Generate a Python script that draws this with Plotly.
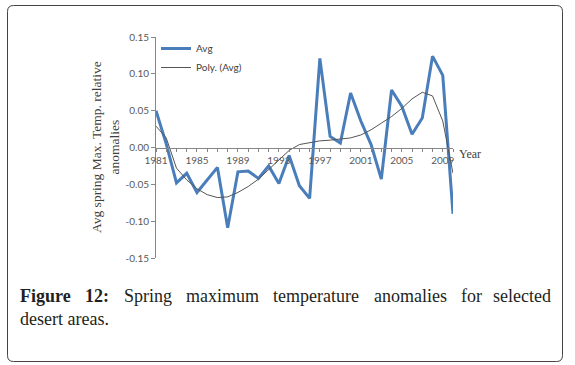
import plotly.graph_objects as go

years = list(range(1981, 2011))
avg = [0.050, 0.005, -0.048, -0.035, -0.061, -0.044, -0.027, -0.109, -0.033, -0.032,
       -0.042, -0.025, -0.049, -0.011, -0.052, -0.069, 0.121, 0.015, 0.006, 0.074,
       0.036, 0.004, -0.043, 0.078, 0.056, 0.018, 0.040, 0.124, 0.098, -0.090]
poly = [0.029, 0.013, -0.028, -0.044, -0.056, -0.064, -0.068, -0.067, -0.061, -0.053,
        -0.043, -0.030, -0.016, -0.004, 0.004, 0.007, 0.009, 0.010, 0.011, 0.013,
        0.017, 0.024, 0.033, 0.042, 0.053, 0.066, 0.075, 0.070, 0.036, -0.035]
y_ticks = [0.15, 0.10, 0.05, 0.00, -0.05, -0.10, -0.15]
y_tick_text = ["0.15", "0.10", "0.05", "0.00", "-0.05", "-0.10", "-0.15"]

W, H = 575, 365
L, R, T, B = 156, 122, 37, 107
PW, PH = W - L - R, H - T - B

def px(x):
    return (x - L) / PW

def py(y):
    return (H - B - y) / PH

fig = go.Figure()
fig.add_trace(go.Scatter(x=years, y=avg, mode="lines", name="Avg",
                         line=dict(color="#4A7EBB", width=3)))
fig.add_trace(go.Scatter(x=years, y=poly, mode="lines", name="Poly. (Avg)",
                         line=dict(color="#555555", width=1)))

fig.update_layout(
    width=W, height=H,
    margin=dict(l=L, r=R, t=T, b=B),
    paper_bgcolor="white", plot_bgcolor="white",
    showlegend=True,
    legend=dict(x=0.0, y=py(34), xanchor="left", yanchor="top",
                font=dict(family="Lato", size=10, color="#404040"),
                bgcolor="rgba(0,0,0,0)", tracegroupgap=0, itemwidth=30),
    xaxis=dict(range=[1981, 2010], tick0=1981, dtick=4, anchor="free", position=0.5,
               showgrid=False, zeroline=False, showline=True, linecolor="#868686",
               linewidth=1, ticks="outside", ticklen=3, tickcolor="#868686",
               tickfont=dict(family="Lato", size=10, color="#595959"),
               minor=dict(dtick=1, tick0=1981, ticks="outside", ticklen=3, tickcolor="#868686")),
    yaxis=dict(range=[-0.15, 0.15], tickvals=y_ticks, ticktext=y_tick_text,
               showgrid=False, zeroline=False, showline=True, linecolor="#868686",
               linewidth=1, ticks="outside", ticklen=4, tickcolor="#868686",
               tickfont=dict(family="Lato", size=10, color="#595959")),
)

fig.add_annotation(xref="paper", yref="paper", x=px(105), y=py(147),
                   text="Avg spring Max. Temp. relative<br>anomalies", textangle=-90,
                   showarrow=False, xanchor="center", yanchor="middle",
                   font=dict(family="Liberation Serif", size=13.5, color="#404040"))
fig.add_annotation(xref="paper", yref="paper", x=px(457), y=py(154),
                   text="Year", showarrow=False, xanchor="left", yanchor="middle",
                   font=dict(family="Liberation Serif", size=12, color="#404040"))

cap_font = dict(family="Liberation Serif", size=18, color="#231f20")
words = [("<b>Figure</b>", 18, "left"), ("<b>12:</b>", 83, "left"), ("Spring", 122, "left"),
         ("maximum", 184, "left"), ("temperature", 271, "left"), ("anomalies", 372, "left"),
         ("for", 459, "left"), ("selected", 553, "right")]
for w, x, anc in words:
    fig.add_annotation(xref="paper", yref="paper", x=px(x), y=py(296), text=w,
                       showarrow=False, xanchor=anc, yanchor="middle", font=cap_font)
fig.add_annotation(xref="paper", yref="paper", x=px(18), y=py(319), text="desert areas.",
                   showarrow=False, xanchor="left", yanchor="middle", font=cap_font)

# outer rounded border
x0, y0, x1, y1, r = 7.5, 5.5, 562.5, 361.5, 6
pts = (f"M {px(x0+r)},{py(y0)} L {px(x1-r)},{py(y0)} Q {px(x1)},{py(y0)} {px(x1)},{py(y0+r)} "
       f"L {px(x1)},{py(y1-r)} Q {px(x1)},{py(y1)} {px(x1-r)},{py(y1)} "
       f"L {px(x0+r)},{py(y1)} Q {px(x0)},{py(y1)} {px(x0)},{py(y1-r)} "
       f"L {px(x0)},{py(y0+r)} Q {px(x0)},{py(y0)} {px(x0+r)},{py(y0)} Z")
fig.add_shape(type="path", xref="paper", yref="paper", path=pts,
              line=dict(color="#444444", width=1), layer="below")

fig.write_html("out.html", config={"displayModeBar": False},
               post_script="document.body.style.margin='0';document.body.style.overflow='hidden';")
